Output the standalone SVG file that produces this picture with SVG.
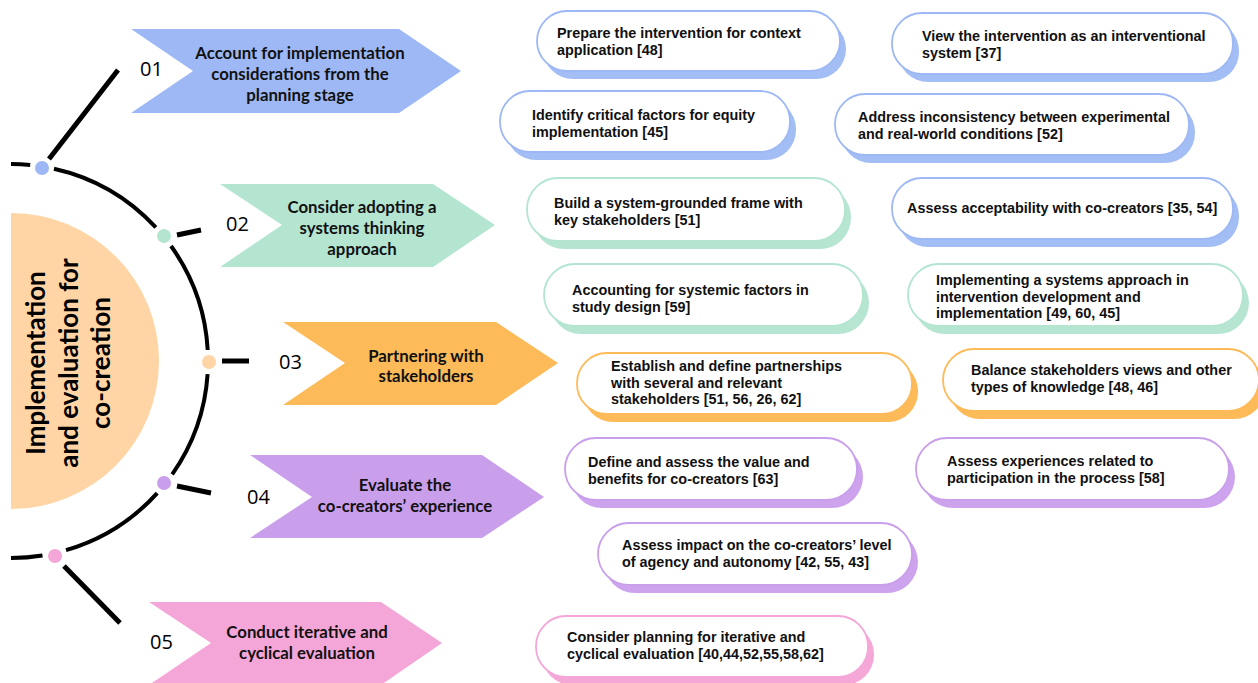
<svg xmlns="http://www.w3.org/2000/svg" width="1258" height="683" viewBox="0 0 1258 683">
<style>
.arc{fill:none;stroke:#000;stroke-width:4;stroke-linecap:butt}
.con{stroke:#000;stroke-width:5;stroke-linecap:butt}
.num{font-family:"Open Sans",sans-serif;font-size:20px;font-weight:500;fill:#000}
.lbl{font-family:Lato,"Open Sans",sans-serif;font-size:16.8px;font-weight:700;fill:#111;text-anchor:middle}
.ctr{font-family:Lato,"Open Sans",sans-serif;font-size:26px;font-weight:700;fill:#000;text-anchor:middle}
.bt{font-family:"Liberation Sans",Arial,sans-serif;font-size:14.4px;font-weight:700;fill:#111}
.front{fill:#fff;stroke-width:1.8}
.blue .sh{fill:#A3BDF5}.blue .front{stroke:#9DB8F4}
.green .sh{fill:#B6E5D2}.green .front{stroke:#B3E5D1}
.orange .sh{fill:#FDBA58}.orange .front{stroke:#FDBA58}
.purple .sh{fill:#CDA3EE}.purple .front{stroke:#C99EEB}
.pink .sh{fill:#F5A8D8}.pink .front{stroke:#F5A6D8}
</style>

<!-- center hub -->
<g id="hub">
  <path d="M11,213 A148,148 0 0 1 11,509 Z" fill="#FFD5A5"/>
  <text class="ctr" transform="translate(45,363) rotate(-90)">Implementation</text>
  <text class="ctr" transform="translate(78,363) rotate(-90)">and evaluation for</text>
  <text class="ctr" transform="translate(110,363) rotate(-90)">co-creation</text>
</g>

<!-- connectors: arc + branches -->
<g id="connectors">
  <path class="arc" d="M11,164 A197,197 0 0 1 30.2,164.9"/>
  <path class="arc" d="M54,168.7 A197,197 0 0 1 155.8,227.4"/>
  <path class="arc" d="M171,246 A197,197 0 0 1 207.7,350"/>
  <path class="arc" d="M207.6,374.1 A197,197 0 0 1 172.2,474.3"/>
  <path class="arc" d="M157.2,493.1 A197,197 0 0 1 66,550.2"/>
  <path class="arc" d="M42.5,555.5 A197,197 0 0 1 11,558"/>
  <line class="con" x1="49" y1="159" x2="118" y2="70"/>
  <line class="con" x1="177" y1="235" x2="201" y2="230"/>
  <line class="con" x1="222" y1="361" x2="249" y2="361"/>
  <line class="con" x1="177" y1="486" x2="211" y2="493"/>
  <line class="con" x1="64" y1="566" x2="120" y2="623"/>
  <circle cx="42" cy="168" r="7" fill="#9DB8F4"/>
  <circle cx="164" cy="236" r="7" fill="#B3E5D1"/>
  <circle cx="209" cy="362" r="7" fill="#FFD5A5"/>
  <circle cx="164" cy="483" r="7" fill="#C99EEB"/>
  <circle cx="55" cy="556" r="7" fill="#F5A6D8"/>
</g>

<!-- chevrons -->
<g id="step1">
  <polygon points="131,29 399,29 461,71 399,113 131,113 193,71" fill="#9DB8F4"/>
  <text class="num" x="140" y="76">01</text>
  <text class="lbl" x="300" y="59">Account for implementation</text>
  <text class="lbl" x="300" y="80">considerations from the</text>
  <text class="lbl" x="300" y="101">planning stage</text>
</g>
<g id="step2">
  <polygon points="220,184 433,184 495,225 433,267 220,267 282,225" fill="#B3E5D1"/>
  <text class="num" x="226" y="231">02</text>
  <text class="lbl" x="362" y="213">Consider adopting a</text>
  <text class="lbl" x="362" y="234">systems thinking</text>
  <text class="lbl" x="362" y="255">approach</text>
</g>
<g id="step3">
  <polygon points="283,322 496,322 558,363 496,405 283,405 345,363" fill="#FDBA58"/>
  <text class="num" x="279" y="369">03</text>
  <text class="lbl" x="426" y="362">Partnering with</text>
  <text class="lbl" x="426" y="382">stakeholders</text>
</g>
<g id="step4">
  <polygon points="250,455 482,455 544,497 482,538 250,538 312,497" fill="#C99EEB"/>
  <text class="num" x="247" y="504">04</text>
  <text class="lbl" x="405" y="491">Evaluate the</text>
  <text class="lbl" x="405" y="512">co-creators’ experience</text>
</g>
<g id="step5">
  <polygon points="149,602 381,602 442,643 381,685 149,685 211,643" fill="#F5A6D8"/>
  <text class="num" x="150" y="649">05</text>
  <text class="lbl" x="307" y="638">Conduct iterative and</text>
  <text class="lbl" x="307" y="659">cyclical evaluation</text>
</g>

<!-- boxes -->
<g id="box1" class="blue">
  <rect class="sh" x="543" y="19" width="303" height="60" rx="30"/>
  <rect class="front" x="537" y="11" width="303" height="60" rx="30"/>
  <text class="bt" x="557" y="38">Prepare the intervention for context</text>
  <text class="bt" x="557" y="54.5">application [48]</text>
</g>
<g id="box2" class="blue">
  <rect class="sh" x="898" y="21" width="341" height="61" rx="30"/>
  <rect class="front" x="892" y="13" width="341" height="61" rx="30"/>
  <text class="bt" x="922" y="41">View the intervention as an interventional</text>
  <text class="bt" x="922" y="57.5">system [37]</text>
</g>
<g id="box3" class="blue">
  <rect class="sh" x="506" y="99" width="290" height="61" rx="30"/>
  <rect class="front" x="500" y="91" width="290" height="61" rx="30"/>
  <text class="bt" x="532" y="120">Identify critical factors for equity</text>
  <text class="bt" x="532" y="136.5">implementation [45]</text>
</g>
<g id="box4" class="blue">
  <rect class="sh" x="841" y="102" width="354" height="61" rx="30"/>
  <rect class="front" x="835" y="94" width="354" height="61" rx="30"/>
  <text class="bt" x="858" y="122">Address inconsistency between experimental</text>
  <text class="bt" x="858" y="138.5">and real-world conditions [52]</text>
</g>
<g id="box5" class="green">
  <rect class="sh" x="533" y="186" width="318" height="63" rx="31"/>
  <rect class="front" x="527" y="178" width="318" height="63" rx="31"/>
  <text class="bt" x="554" y="208">Build a system-grounded frame with</text>
  <text class="bt" x="554" y="224.5">key stakeholders [51]</text>
</g>
<g id="box6" class="blue">
  <rect class="sh" x="898" y="186" width="341" height="61" rx="30"/>
  <rect class="front" x="892" y="178" width="341" height="61" rx="30"/>
  <text class="bt" x="907" y="213">Assess acceptability with co-creators [35, 54]</text>
</g>
<g id="box7" class="green">
  <rect class="sh" x="550" y="272" width="319" height="62" rx="31"/>
  <rect class="front" x="544" y="264" width="319" height="62" rx="31"/>
  <text class="bt" x="572" y="295">Accounting for systemic factors in</text>
  <text class="bt" x="572" y="311.5">study design [59]</text>
</g>
<g id="box8" class="green">
  <rect class="sh" x="914" y="272" width="335" height="62" rx="31"/>
  <rect class="front" x="908" y="264" width="335" height="62" rx="31"/>
  <text class="bt" x="936" y="285">Implementing a systems approach in</text>
  <text class="bt" x="936" y="301.5">intervention development and</text>
  <text class="bt" x="936" y="318">implementation [49, 60, 45]</text>
</g>
<g id="box9" class="orange">
  <rect class="sh" x="583" y="361" width="335" height="61" rx="30"/>
  <rect class="front" x="577" y="353" width="335" height="61" rx="30"/>
  <text class="bt" x="611" y="371">Establish and define partnerships</text>
  <text class="bt" x="611" y="387.5">with several and relevant</text>
  <text class="bt" x="611" y="404">stakeholders [51, 56, 26, 62]</text>
</g>
<g id="box10" class="orange">
  <rect class="sh" x="949" y="357" width="316" height="62" rx="31"/>
  <rect class="front" x="943" y="349" width="316" height="62" rx="31"/>
  <text class="bt" x="971" y="375">Balance stakeholders views and other</text>
  <text class="bt" x="971" y="391.5">types of knowledge [48, 46]</text>
</g>
<g id="box11" class="purple">
  <rect class="sh" x="571" y="446" width="292" height="62" rx="31"/>
  <rect class="front" x="565" y="438" width="292" height="62" rx="31"/>
  <text class="bt" x="588" y="467">Define and assess the value and</text>
  <text class="bt" x="588" y="483.5">benefits for co-creators [63]</text>
</g>
<g id="box12" class="purple">
  <rect class="sh" x="922" y="446" width="313" height="62" rx="31"/>
  <rect class="front" x="916" y="438" width="313" height="62" rx="31"/>
  <text class="bt" x="947" y="466">Assess experiences related to</text>
  <text class="bt" x="947" y="482.5">participation in the process [58]</text>
</g>
<g id="box13" class="purple">
  <rect class="sh" x="604" y="531" width="314" height="62" rx="31"/>
  <rect class="front" x="598" y="523" width="314" height="62" rx="31"/>
  <text class="bt" x="622" y="550">Assess impact on the co-creators’ level</text>
  <text class="bt" x="622" y="566.5">of agency and autonomy [42, 55, 43]</text>
</g>
<g id="box14" class="pink">
  <rect class="sh" x="542" y="624" width="332" height="61" rx="30"/>
  <rect class="front" x="536" y="616" width="332" height="61" rx="30"/>
  <text class="bt" x="567" y="642">Consider planning for iterative and</text>
  <text class="bt" x="567" y="658.5">cyclical evaluation [40,44,52,55,58,62]</text>
</g>
</svg>
